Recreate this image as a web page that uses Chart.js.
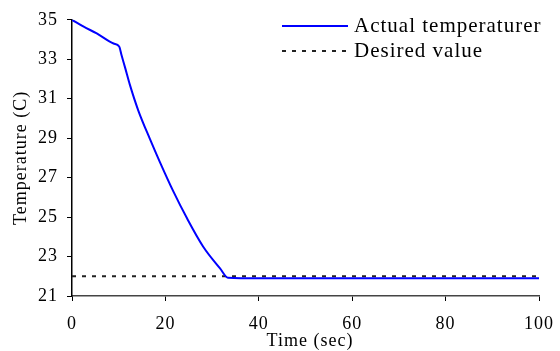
<!DOCTYPE html>
<html>
<head>
<meta charset="utf-8">
<script src="https://cdn.jsdelivr.net/npm/chart.js@4.4.0/dist/chart.umd.min.js"></script>
<style>
  html, body { margin: 0; padding: 0; background: #fff; }
  #wrap { width: 560px; height: 351px; }
</style>
</head>
<body>
<div id="wrap"><canvas id="myChart"></canvas></div>
<script>
// values
const timeSec = [0, 2.5, 5.3, 8.9, 10.1, 10.6, 11.4, 12.4, 14.2, 16.7, 18.8, 21.7, 24.6, 28.1, 31.7, 33.4, 40, 60, 80, 100];
const actualTemp = [35, 34.65, 34.31, 33.8, 33.65, 33.22, 32.55, 31.7, 30.4, 28.95, 27.8, 26.3, 24.95, 23.5, 22.4, 21.93, 21.9, 21.9, 21.9, 21.9];
const desiredTime = [0, 100];
const desiredTemp = [22, 22];
const xTicks = [0, 20, 40, 60, 80, 100];
const yTicks = [21, 23, 25, 27, 29, 31, 33, 35];

const serif = "'Liberation Serif', 'Times New Roman', serif";
const ctx = document.getElementById('myChart');

// legend + x title drawn by hand (reference has them inside the plot)
const extras = {
  id: 'extras',
  beforeDraw(chart) {
    chart.ctx.letterSpacing = '1px';
  },
  afterDraw(chart) {
    const c = chart.ctx;
    c.save();
    c.font = '21px ' + serif;
    c.letterSpacing = '1px';
    c.fillStyle = '#000';
    c.textBaseline = 'middle';
    const rows = [{ y: 26 }, { y: 51 }];
    chart.data.datasets.forEach((ds, i) => {
      const y = rows[i].y;
      c.beginPath();
      c.strokeStyle = ds.borderColor;
      c.lineWidth = ds.borderWidth;
      c.setLineDash(ds.borderDash || []);
      c.moveTo(282, y);
      c.lineTo(348, y);
      c.stroke();
      c.setLineDash([]);
      c.fillText(ds.label, 354, y);
    });
    c.font = '18px ' + serif;
    c.letterSpacing = '1px';
    c.textAlign = 'center';
    c.fillText('Time (sec)', 310, 341);
    c.restore();
  }
};

new Chart(ctx, {
  type: 'line',
  data: {
    datasets: [{
      label: 'Actual temperaturer',
      data: timeSec.map((t, i) => ({ x: t, y: actualTemp[i] })),
      borderColor: '#0000ff',
      borderWidth: 2,
      pointRadius: 0,
      cubicInterpolationMode: 'monotone',
      fill: false
    }, {
      label: 'Desired value',
      data: desiredTime.map((t, i) => ({ x: t, y: desiredTemp[i] })),
      borderColor: '#222',
      borderWidth: 2,
      borderDash: [4, 6],
      pointRadius: 0,
      fill: false
    }]
  },
  options: {
    responsive: true,
    maintainAspectRatio: false,
    animation: false,
    layout: { padding: { top: 18, right: 21, left: 0, bottom: 0 } },
    plugins: {
      legend: { display: false },
      tooltip: { enabled: false }
    },
    scales: {
      x: {
        type: 'linear',
        min: 0,
        max: 100,
        afterFit: (s) => { s.height = 55; s.paddingLeft = 0; s.paddingRight = 0; },
        afterBuildTicks: (s) => { s.ticks = xTicks.map(v => ({ value: v })); },
        grid: { drawOnChartArea: false, drawTicks: true, tickLength: 5, color: '#000' },
        border: { color: '#444', width: 1.5 },
        ticks: { color: '#000', padding: 12, maxRotation: 0, font: { family: serif, size: 18 } }
      },
      y: {
        min: 21,
        max: 35,
        afterFit: (s) => { s.width = 72; },
        afterBuildTicks: (s) => { s.ticks = yTicks.map(v => ({ value: v })); },
        grid: { drawOnChartArea: false, drawTicks: true, tickLength: 5, color: '#000' },
        border: { color: '#000', width: 1.5 },
        ticks: { color: '#000', padding: 9, font: { family: serif, size: 18 } },
        title: {
          display: true,
          text: 'Temperature (C)',
          color: '#000',
          padding: { top: 10, bottom: 0 },
          font: { family: serif, size: 18 }
        }
      }
    }
  },
  plugins: [extras]
});
</script>
</body>
</html>
